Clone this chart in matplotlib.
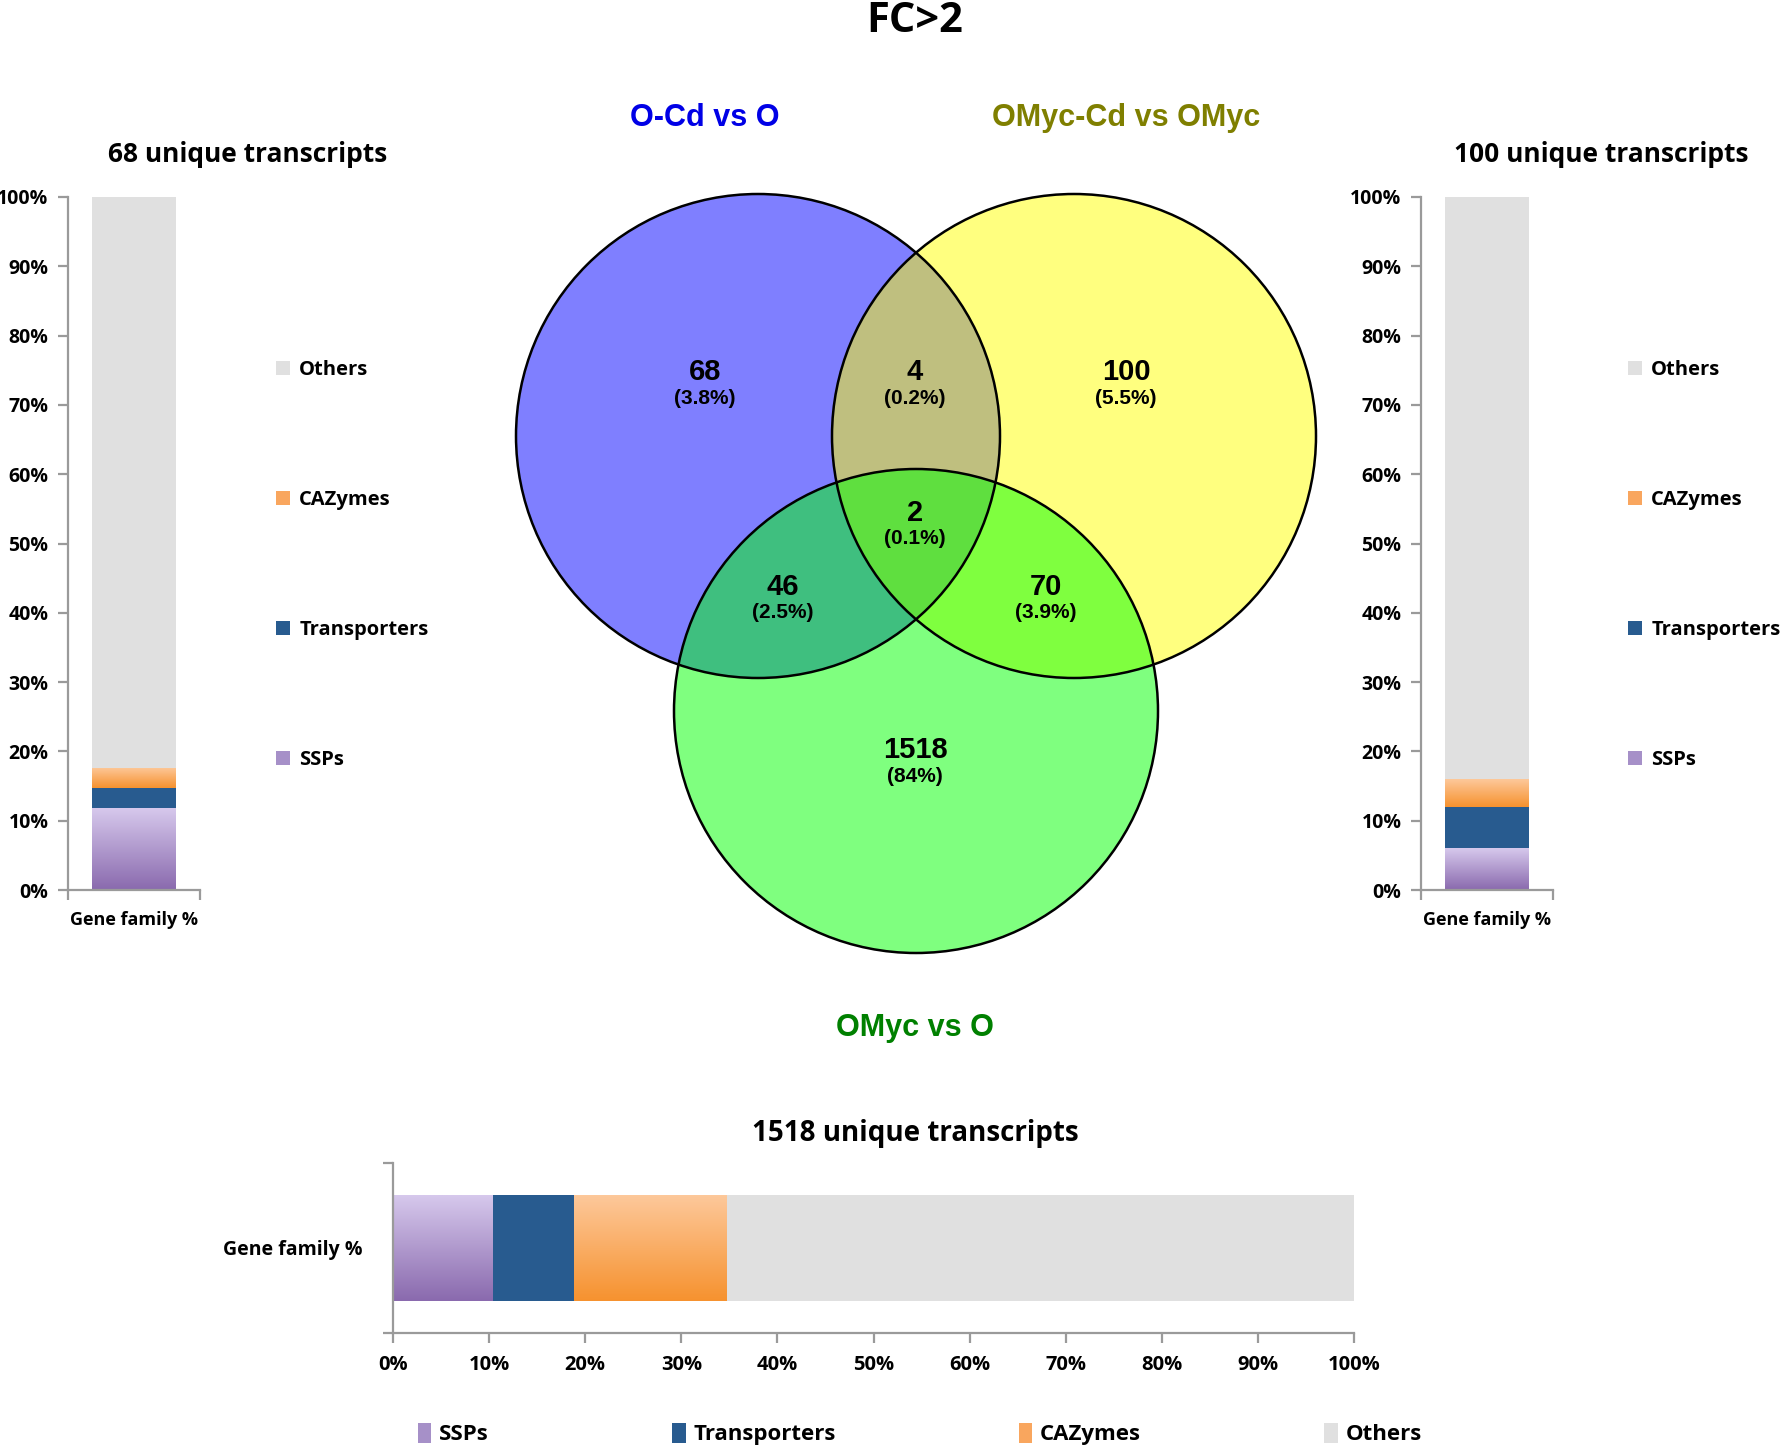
import matplotlib
matplotlib.use('Agg')
import matplotlib.pyplot as plt
import numpy as np
from matplotlib.patches import Circle, Patch
from matplotlib.colors import LinearSegmentedColormap

plt.rcParams['font.family'] = ['Open Sans', 'DejaVu Sans']
plt.rcParams['font.weight'] = 'bold'

# ---------------- data ----------------
families = ['SSPs', 'Transporters', 'CAZymes', 'Others']
left_pct = [11.8, 2.9, 2.9, 82.4]      # 68 unique transcripts
right_pct = [6.0, 6.0, 4.0, 84.0]      # 100 unique transcripts
bottom_pct = [10.4, 8.4, 15.9, 65.3]   # 1518 unique transcripts
pct_ticks = list(range(0, 101, 10))

set_names = ['O-Cd vs O', 'OMyc-Cd vs OMyc', 'OMyc vs O']
# regions: A, AB, B, ABC, AC, BC, C
region_counts = [68, 4, 100, 2, 46, 70, 1518]
region_pcts = ['3.8%', '0.2%', '5.5%', '0.1%', '2.5%', '3.9%', '84%']

# ---------------- styles ----------------
W, H = 1783, 1451
solid = {'SSPs': '#a690c8', 'Transporters': '#285b8f',
         'CAZymes': '#f9a65e', 'Others': '#e0e0e0'}
grads = {'SSPs': ('#8a6aae', '#d6c8ec'), 'CAZymes': ('#f6922f', '#fdc89a')}
spine_gray = '#9a9a9a'
venn_font = ['Liberation Sans', 'DejaVu Sans']


def px(x, y):
    return x / W, 1 - y / H


def stacked(ax, vals, horizontal):
    start = 0
    for fam, v in zip(families, vals):
        if horizontal:
            p = ax.barh(0, v, left=start, height=0.62, color=solid[fam], lw=0)[0]
        else:
            p = ax.bar(0, v, bottom=start, width=0.63, color=solid[fam], lw=0)[0]
        if fam in grads:
            x0, y0 = p.get_x(), p.get_y()
            cmap = LinearSegmentedColormap.from_list(fam, list(grads[fam]))
            im = ax.imshow(np.linspace(0, 1, 100).reshape(-1, 1), cmap=cmap,
                           extent=[x0, x0 + p.get_width(), y0, y0 + p.get_height()],
                           origin='lower', aspect='auto', zorder=p.get_zorder() + 0.1)
            im.set_clip_path(p)
        start += v


def style_spines(ax):
    for s in ['top', 'right']:
        ax.spines[s].set_visible(False)
    for s in ['left', 'bottom']:
        ax.spines[s].set_color(spine_gray)
        ax.spines[s].set_linewidth(1.6)


handles = {f: Patch(facecolor=solid[f], edgecolor='none') for f in families}

fig = plt.figure(figsize=(W / 100, H / 100), dpi=100)

# ---------------- Venn ----------------
axv = fig.add_axes([0, 0, 1, 1], zorder=0)
axv.set_xlim(0, W)
axv.set_ylim(H, 0)
axv.axis('off')

centers = [(758, 436), (1074, 436), (916, 711)]
radius = 242
fills = [(0, 0, 1, 0.5), (1, 1, 0, 0.5), (0, 1, 0, 0.5)]
for c, f in zip(centers, fills):
    axv.add_patch(Circle(c, radius, facecolor=f, edgecolor='none'))
for c in centers:
    axv.add_patch(Circle(c, radius, fill=False, edgecolor='black', lw=1.8))

region_xy = [(705, 372), (915, 372), (1126, 372), (915, 513),
             (783, 587), (1046, 587), (915, 750)]
for (x, y), n, p in zip(region_xy, region_counts, region_pcts):
    axv.text(x, y, str(n), ha='center', va='center', fontsize=21,
             fontweight='bold', family=venn_font)
    axv.text(x, y + 26, f'({p})', ha='center', va='center', fontsize=15,
             fontweight='bold', family=venn_font)

label_xy = [(705, 118), (1126, 118), (915, 1028)]
label_colors = ['#0000e6', '#7f7f00', '#008000']
for (x, y), name, col in zip(label_xy, set_names, label_colors):
    axv.text(x, y, name, ha='center', va='center', fontsize=22,
             fontweight='bold', color=col, family=venn_font)

fig.text(*px(915, 22), 'FC>2', ha='center', va='center', fontsize=30, fontweight='bold')


# ---------------- side charts ----------------
def side_chart(x_left, vals, title, title_x, legend_x):
    ax = fig.add_axes([x_left / W, 1 - 890 / H, 132 / W, 693 / H], zorder=2)
    stacked(ax, vals, False)
    ax.set_xlim(-0.5, 0.5)
    ax.set_ylim(0, 100)
    ax.set_yticks(pct_ticks)
    ax.set_yticklabels([f'{t}%' for t in pct_ticks], fontsize=14)
    ax.set_xticks([0])
    ax.set_xticklabels(['Gene family %'], fontsize=13)
    ax.set_xticks([-0.5, 0.5], minor=True)
    ax.tick_params(axis='x', which='major', length=0, pad=15)
    ax.tick_params(axis='x', which='minor', length=7, color=spine_gray, width=1.6)
    ax.tick_params(axis='y', length=7, color=spine_gray, width=1.6, pad=7)
    style_spines(ax)
    fig.text(*px(title_x, 154), title, ha='center', va='center', fontsize=19)
    order = families[::-1]
    fig.legend([handles[f] for f in order], order, loc='center left',
               bbox_to_anchor=px(legend_x, 565), frameon=False, fontsize=14.5,
               labelspacing=5.45, handlelength=0.7, handleheight=0.7,
               handletextpad=0.45, borderpad=0, borderaxespad=0)
    return ax


side_chart(68, left_pct, '68 unique transcripts', 248, 276)
side_chart(1421, right_pct, '100 unique transcripts', 1601, 1628)

# ---------------- bottom chart ----------------
axb = fig.add_axes([393 / W, 1 - 1333 / H, 961 / W, 170 / H], zorder=2)
stacked(axb, bottom_pct, True)
axb.set_xlim(0, 100)
axb.set_ylim(-0.5, 0.5)
axb.set_xticks(pct_ticks)
axb.set_xticklabels([f'{t}%' for t in pct_ticks], fontsize=14.5)
axb.set_yticks([0])
axb.set_yticklabels(['Gene family %'], fontsize=14)
axb.set_yticks([-0.5, 0.5], minor=True)
axb.tick_params(axis='y', which='major', length=0, pad=22)
axb.tick_params(axis='y', which='minor', length=7, color=spine_gray, width=1.6)
axb.tick_params(axis='x', length=7, color=spine_gray, width=1.6, pad=9)
style_spines(axb)
fig.text(*px(915, 1134), '1518 unique transcripts', ha='center', va='center', fontsize=20)
fig.legend([handles[f] for f in families], families, loc='center left', ncol=4,
           bbox_to_anchor=px(418, 1434), frameon=False, fontsize=16,
           columnspacing=8.25, handlelength=0.6, handleheight=1.0,
           handletextpad=0.35, borderpad=0, borderaxespad=0)

fig.savefig('out.png', dpi=100)
